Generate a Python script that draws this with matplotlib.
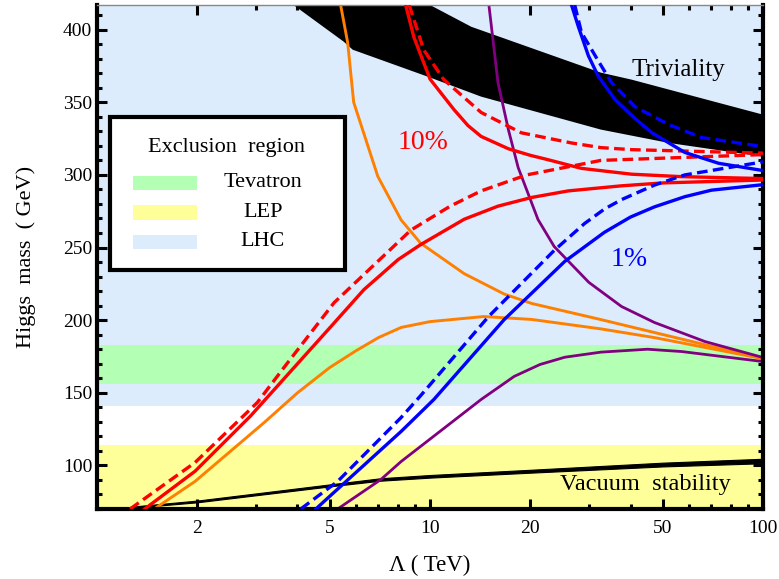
import matplotlib
matplotlib.use('Agg')
import matplotlib.pyplot as plt
from matplotlib.patches import Rectangle
from matplotlib.ticker import LogLocator, NullFormatter, MultipleLocator
import numpy as np

plt.rcParams['font.family'] = 'Liberation Serif'

# exclusion bands (GeV)
tevatron_band = (156, 183)
lep_band = (70, 114.4)
lhc_band = (141, 420)

# triviality bound (black band), Lambda in TeV
triv_lo_L = [3.89, 5.51, 5.86, 9.83, 14.24, 32.6, 52.2, 100]
triv_lo_M = [417, 391.7, 386.2, 367.7, 353.9, 331.2, 322, 312.6]
triv_hi_L = [10.0, 13.3, 32.6, 40.3, 100]
triv_hi_M = [417, 402, 370.4, 365.6, 341.5]

# vacuum stability bound
vac_L = [1.15, 1.35, 2.0, 5.28, 7.12, 10, 20, 50, 100]
vac_lo = [70, 71.3, 74.6, 86.2, 89.5, 91.6, 95, 99.3, 101.5]
vac_hi = [70.4, 72.2, 75.8, 87.6, 91.2, 93.4, 97, 101.9, 104.6]

# 10% fine tuning (red)
red_up_L = [1.39, 1.97, 2.89, 5.04, 6.33, 8.02, 9.37, 12.67, 16.0, 20.2, 26.0, 37.6, 50, 100]
red_up_M = [70, 96, 134, 195.6, 221, 241.7, 252, 269.5, 278.5, 284.5, 289, 292.5, 294.5, 296.5]
red_dn_L = [8.45, 8.94, 10.0, 11.8, 13.0, 14.24, 17.2, 20.0, 22.6, 28.5, 40.3, 57, 100]
red_dn_M = [417, 395, 366, 345, 334, 326.5, 318, 313.5, 310.5, 304.5, 300.5, 298.8, 297.5]
red_up_dash_L = [1.257, 1.97, 3.03, 3.66, 5.15, 8.76, 11.5, 14.24, 19.5, 32.6, 100]
red_up_dash_M = [70, 102, 143.3, 168, 212, 262, 278.5, 289, 300, 310, 314]
red_dn_dash_L = [8.66, 9.58, 11.0, 14.24, 18.8, 26.6, 32.6, 40.3, 100]
red_dn_dash_M = [417, 386, 365.6, 343, 329, 322, 318.8, 317.4, 315]

# 1% fine tuning (blue)
blue_up_L = [4.54, 5.04, 8.19, 10.27, 16.7, 25.4, 33.4, 40, 47.2, 58.2, 70, 100]
blue_up_M = [70, 79.5, 123.4, 145.4, 200.4, 240.5, 260.5, 271, 278, 285, 289.5, 293.3]
blue_dn_L = [26.6, 27.9, 29.9, 32.0, 35.9, 41.2, 46.4, 58.2, 73.6, 100]
blue_dn_M = [417, 402, 382, 368, 352, 339, 329, 315.5, 308, 303]
blue_up_dash_L = [4.09, 5.28, 8.19, 9.37, 14.99, 23.6, 29.1, 33.4, 37.6, 47.2, 58.2, 100]
blue_up_dash_M = [70, 89, 133, 148, 202.5, 248, 266.5, 276.5, 283, 293, 300, 309]
blue_dn_dash_L = [27.2, 28.5, 32.3, 35.1, 41.2, 52.2, 65.5, 100]
blue_dn_dash_M = [417, 398, 377, 363.5, 347, 334.6, 325.7, 319.5]

# orange
orange_up_L = [1.485, 1.97, 3.18, 4.0, 5.0, 6.0, 7.0, 8.19, 10, 14.5, 20.2, 32.6, 47.2, 100]
orange_up_M = [70, 89, 129.6, 150, 167.4, 179, 188, 195, 199, 202.5, 200.5, 194, 188, 173.5]
orange_dn_L = [5.39, 5.66, 5.9, 6.97, 8.19, 9.37, 12.67, 16.7, 20.2, 32.6, 47.2, 100]
orange_dn_M = [417, 391, 350, 299, 269, 253, 232, 218, 211.5, 200.4, 191.5, 173.5]

# purple
purple_up_L = [5.28, 7.12, 8.19, 14.24, 17.9, 21.4, 25.4, 32.6, 45, 57, 100]
purple_up_M = [70, 90.3, 102.7, 145.4, 161.3, 169.5, 174.5, 178, 180, 178.4, 171.5]
purple_dn_L = [14.99, 16.0, 17.2, 18.4, 21.1, 23.6, 30.0, 37.6, 47.2, 66.9, 100]
purple_dn_M = [419, 363.5, 331, 305, 269.3, 250.7, 226, 209.4, 198.4, 185.3, 174.3]

legend_items = [('Tevatron', '#b3ffb3'), ('LEP', '#ffff99'), ('LHC', '#dcecfc')]

RED = '#ff0000'
BLUE = '#0000ff'
ORANGE = '#ff8000'
PURPLE = '#800080'
DASH = (0, (3.2, 1.6))

fig = plt.figure(figsize=(7.79, 5.79), dpi=100)
ax = fig.add_axes([0.1245, 0.1209, 0.855, 0.8705])
ax.set_xscale('log')

ax.axhspan(*lhc_band, color='#dcecfc', lw=0, zorder=0)
ax.axhspan(*tevatron_band, color='#b3ffb3', lw=0, zorder=0.5)
ax.axhspan(*lep_band, color='#ffff99', lw=0, zorder=0.5)

# triviality band
ax.fill(triv_lo_L + triv_hi_L[::-1], triv_lo_M + triv_hi_M[::-1],
        color='black', lw=0, zorder=1)
# vacuum stability band
ax.fill_between(vac_L, vac_lo, vac_hi, color='black', lw=0.8, zorder=1)

ax.plot(orange_up_L, orange_up_M, color=ORANGE, lw=2.1, zorder=2)
ax.plot(orange_dn_L, orange_dn_M, color=ORANGE, lw=2.1, zorder=2)
ax.plot(purple_up_L, purple_up_M, color=PURPLE, lw=2.0, zorder=2)
ax.plot(purple_dn_L, purple_dn_M, color=PURPLE, lw=2.0, zorder=2)
ax.plot(red_up_L, red_up_M, color=RED, lw=2.4, zorder=3)
ax.plot(red_dn_L, red_dn_M, color=RED, lw=2.4, zorder=3)
ax.plot(red_up_dash_L, red_up_dash_M, color=RED, lw=2.4, ls=DASH, zorder=3)
ax.plot(red_dn_dash_L, red_dn_dash_M, color=RED, lw=2.4, ls=DASH, zorder=3)
ax.plot(blue_up_L, blue_up_M, color=BLUE, lw=2.4, zorder=3)
ax.plot(blue_dn_L, blue_dn_M, color=BLUE, lw=2.4, zorder=3)
ax.plot(blue_up_dash_L, blue_up_dash_M, color=BLUE, lw=2.4, ls=DASH, zorder=3)
ax.plot(blue_dn_dash_L, blue_dn_dash_M, color=BLUE, lw=2.4, ls=DASH, zorder=3)

ax.text(9.53, 322, '10%', color=RED, fontsize=20, ha='center', va='center', zorder=4)
ax.text(39.6, 241.7, '1%', color=BLUE, fontsize=20, ha='center', va='center', zorder=4)
ax.text(55.7, 372.5, 'Triviality', fontsize=18, ha='center', va='center', zorder=4)
ax.text(44.2, 87, 'Vacuum  stability', fontsize=17.5, ha='center', va='center', zorder=4)

ax.set_xlim(1, 100)
ax.set_ylim(70, 417)
ax.set_xticks([2, 5, 10, 20, 50, 100])
ax.set_xticklabels(['2', '5', '10', '20', '50', '100'])
ax.xaxis.set_minor_locator(LogLocator(base=10, subs=np.arange(2, 10)))
ax.xaxis.set_minor_formatter(NullFormatter())
ax.set_yticks([100, 150, 200, 250, 300, 350, 400])
ax.yaxis.set_minor_locator(MultipleLocator(10))
ax.tick_params(which='both', direction='in', top=True, right=True,
               labelsize=14, width=2.2, colors='black')
ax.tick_params(which='major', length=7)
ax.tick_params(which='minor', length=3.5)
ax.tick_params(axis='x', pad=8)

for side in ['left', 'bottom', 'right']:
    ax.spines[side].set_linewidth(3)
ax.spines['top'].set_linewidth(1)
ax.spines['top'].set_color('#888888')

ax.set_xlabel('Λ ( TeV)', fontsize=16.5)
ax.set_ylabel('Higgs  mass  ( GeV)', fontsize=16)
ax.xaxis.set_label_coords(0.5, -0.092)
ax.yaxis.set_label_coords(-0.092, 0.5)

# legend box
ax.add_patch(Rectangle((0.0195, 0.4742), 0.353, 0.3036, transform=ax.transAxes,
                       facecolor='white', edgecolor='black', lw=3, zorder=5))
ax.text(0.195, 0.718, 'Exclusion  region', transform=ax.transAxes, fontsize=16,
        ha='center', va='center', zorder=6)
for i, (name, col) in enumerate(legend_items):
    yc = 0.6468 - i * 0.0585
    ax.add_patch(Rectangle((0.054, yc - 0.014), 0.096, 0.028, transform=ax.transAxes,
                           facecolor=col, lw=0, zorder=6))
    ax.text(0.249, yc, name, transform=ax.transAxes, fontsize=16,
            ha='center', va='center', zorder=6)

fig.savefig('out.png', dpi=100)
